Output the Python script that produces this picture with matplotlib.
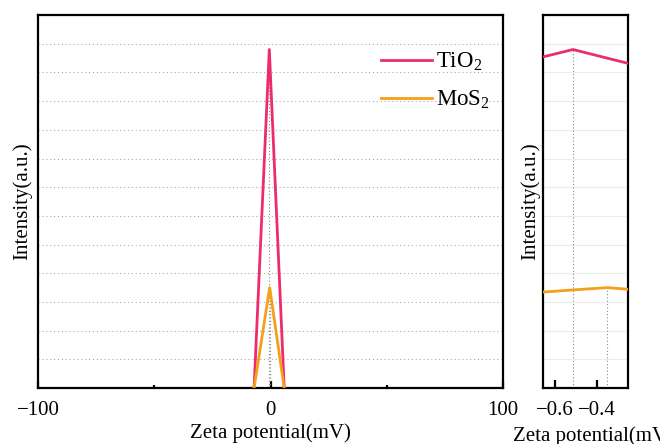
import matplotlib
matplotlib.use('Agg')
import matplotlib.pyplot as plt
from matplotlib.ticker import MultipleLocator, FixedLocator

plt.rcParams['font.family'] = ['Liberation Serif', 'DejaVu Serif']
plt.rcParams['mathtext.fontset'] = 'custom'
plt.rcParams['mathtext.rm'] = 'Liberation Serif'
plt.rcParams['mathtext.it'] = 'Liberation Serif:italic'
plt.rcParams['font.size'] = 15

# zeta potential distributions (mV, a.u.)
tio2_x = [-7.07, -0.514, 5.9]
tio2_y = [0.0, 11.8, 0.0]
mos2_x = [-7.07, -0.514, -0.352, 5.9]
mos2_y = [0.0, 3.42, 3.5, 0.0]
tio2_peak = (-0.514, 11.8)
mos2_peak = (-0.352, 3.5)

pink = '#EC2D6B'
orange = '#F5A01A'

fig = plt.figure(figsize=(6.6, 4.44), dpi=100)
ax = fig.add_axes([0.0576, 0.126, 0.7045, 0.840])
ax2 = fig.add_axes([0.8227, 0.126, 0.1288, 0.840])

for a in (ax, ax2):
    a.plot(tio2_x, tio2_y, color=pink, lw=2.0, label='TiO$_2$', zorder=3)
    a.plot(mos2_x, mos2_y, color=orange, lw=2.0, label='MoS$_2$', zorder=3)
    a.vlines([tio2_peak[0], mos2_peak[0]], 0, [tio2_peak[1], mos2_peak[1]],
             colors='#888888', linestyles=(0, (1, 2)), lw=0.8, zorder=2)
    a.set_ylim(0, 13)
    a.yaxis.set_major_locator(MultipleLocator(1))
    a.tick_params(axis='y', length=0, labelleft=False)
    for s in a.spines.values():
        s.set_linewidth(1.6)
    a.set_ylabel('Intensity(a.u.)')

# main panel
ax.set_xlim(-100, 100)
ax.xaxis.set_major_locator(FixedLocator([-100, 0, 100]))
ax.xaxis.set_minor_locator(FixedLocator([-50, 50]))
ax.tick_params(axis='x', which='major', direction='in', length=5, width=1.6, pad=9)
ax.tick_params(axis='x', which='minor', direction='in', length=2, width=1.6)
ax.grid(axis='y', color='#aaaaaa', linestyle=(0, (1, 2.5)), lw=0.8)
ax.set_xlabel('Zeta potential(mV)', labelpad=3)
ax.yaxis.labelpad = 4
ax.legend(loc='upper right', bbox_to_anchor=(0.972, 0.905), frameon=False,
          borderaxespad=0, borderpad=0, handlelength=2.2, handletextpad=0.2,
          labelspacing=0.7, fontsize=16.5)

# zoomed panel
ax2.set_xlim(-0.657, -0.252)
ax2.xaxis.set_major_locator(FixedLocator([-0.6, -0.4]))
ax2.xaxis.set_major_formatter(matplotlib.ticker.FuncFormatter(lambda v, p: f'{v:.1f}'.replace('-', '\u2212')))
ax2.tick_params(axis='x', which='major', direction='in', length=6, width=1.6, pad=9)
ax2.grid(axis='y', color='#ececec', linestyle='-', lw=0.8)
ax2.set_xlabel('Zeta potential(mV)', labelpad=5)
ax2.xaxis.label.set_x(0.594)
ax2.yaxis.labelpad = 2

fig.savefig('out.png', dpi=100)
